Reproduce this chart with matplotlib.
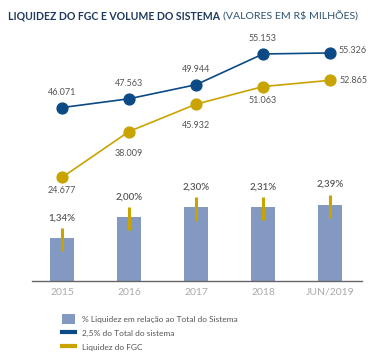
import numpy as np
import matplotlib
matplotlib.use("Agg")
import matplotlib.pyplot as plt
from matplotlib.patches import Patch
from matplotlib.lines import Line2D

# data
categories = ["2015", "2016", "2017", "2018", "JUN/2019"]
pct_liquidez = [1.34, 2.00, 2.30, 2.31, 2.39]
pct_labels = ["1,34%", "2,00%", "2,30%", "2,31%", "2,39%"]
total_sistema = [46071, 47563, 49944, 55153, 55326]
liquidez_fgc = [24677, 38009, 45932, 51063, 52865]


def fmt(v):
    return f"{v:,}".replace(",", ".")


plt.rcParams['font.family'] = ['Lato', 'DejaVu Sans']

BAR = "#8399c2"
BLUE = "#0b4a85"
GOLD = "#c9a400"
TXT = "#555555"

W, H = 374, 357
fig = plt.figure(figsize=(W / 100, H / 100), dpi=100)
ax = fig.add_axes([32 / W, (H - 281) / H, 330 / W, 241 / H])
x = np.arange(len(categories))

# bars + gold ticks
ax.bar(x, pct_liquidez, width=0.36, color=BAR, zorder=1)
ax.vlines(x, np.array(pct_liquidez) - 0.41, np.array(pct_liquidez) + 0.31,
          color=GOLD, lw=2.2, zorder=2)
for xi, v, lab in zip(x, pct_liquidez, pct_labels):
    ax.annotate(lab, (xi, v), xytext=(0, 14.4), textcoords="offset points",
                ha="center", va="center", fontsize=7, color=TXT, fontweight="semibold")
ax.set_xlim(-0.448, 4.478)
ax.set_ylim(0, 7.53)
for s in ["top", "left", "right"]:
    ax.spines[s].set_visible(False)
ax.spines["bottom"].set_color("#666666")
ax.spines["bottom"].set_linewidth(1)
ax.spines["bottom"].set_zorder(3)
ax.set_yticks([])
ax.set_xticks(x)
ax.set_xticklabels(categories, fontsize=7.5, color="#aaaaaa")
ax.tick_params(axis="x", length=0, pad=5)

# blue line
axb = ax.twinx()
axb.set_ylim(16681, 57522)
axb.axis("off")
axb.plot(x, total_sistema, color=BLUE, lw=1.2, marker="o", ms=7.8, zorder=4)
for i, (xi, v) in enumerate(zip(x, total_sistema)):
    if i == len(x) - 1:
        axb.annotate(fmt(v), (xi, v), xytext=(6.5, 2), textcoords="offset points",
                     ha="left", va="center", fontsize=6.5, color=TXT)
    else:
        axb.annotate(fmt(v), (xi, v), xytext=(0, 10.8), textcoords="offset points",
                     ha="center", va="center", fontsize=6.5, color=TXT)

# gold line
axg = ax.twinx()
axg.set_ylim(-5387, 64570)
axg.axis("off")
axg.plot(x, liquidez_fgc, color=GOLD, lw=1.2, marker="o", ms=7.8, zorder=4)
gold_off = [-9.5, -16, -15, -10, 0]
for i, (xi, v) in enumerate(zip(x, liquidez_fgc)):
    if i == len(x) - 1:
        axg.annotate(fmt(v), (xi, v), xytext=(7, 0), textcoords="offset points",
                     ha="left", va="center", fontsize=6.5, color=TXT)
    else:
        axg.annotate(fmt(v), (xi, v), xytext=(0, gold_off[i]), textcoords="offset points",
                     ha="center", va="center", fontsize=6.5, color=TXT)

# title: fit the bold part to the reference width
t1 = fig.text(8 / W, 1 - 16 / H, "LIQUIDEZ DO FGC E VOLUME DO SISTEMA",
              fontsize=8, fontweight="bold", color="#1f3a5f",
              ha="left", va="center")
r = fig.canvas.get_renderer()
w1 = t1.get_window_extent(r).width
t1.set_fontsize(8 * 212 / w1)
t2 = ax.annotate("(VALORES EM R$ MILHÕES)", xy=(1, 0.5), xycoords=t1,
                 xytext=(2, 0), textcoords="offset points",
                 fontsize=8, color="#2b5272", ha="left", va="center",
                 annotation_clip=False)
w2 = t2.get_window_extent(r).width
t2.set_fontsize(min(8 * 134 / w2, t1.get_fontsize()))

# legend
handles = [Patch(facecolor=BAR, edgecolor="none"),
           Line2D([], [], color=BLUE, lw=3),
           Line2D([], [], color=GOLD, lw=3)]
labels = ["% Liquidez em relação ao Total do Sistema",
          "2,5% do Total do sistema",
          "Liquidez do FGC"]
leg = fig.legend(handles, labels, loc="upper left",
                 bbox_to_anchor=(62 / W, (H - 314) / H), frameon=False,
                 fontsize=6, handlelength=1.56, handleheight=1.4,
                 handletextpad=0.84, labelspacing=0.55, borderpad=0,
                 borderaxespad=0)
for t in leg.get_texts():
    t.set_color(TXT)

fig.savefig("out.png", dpi=100)
